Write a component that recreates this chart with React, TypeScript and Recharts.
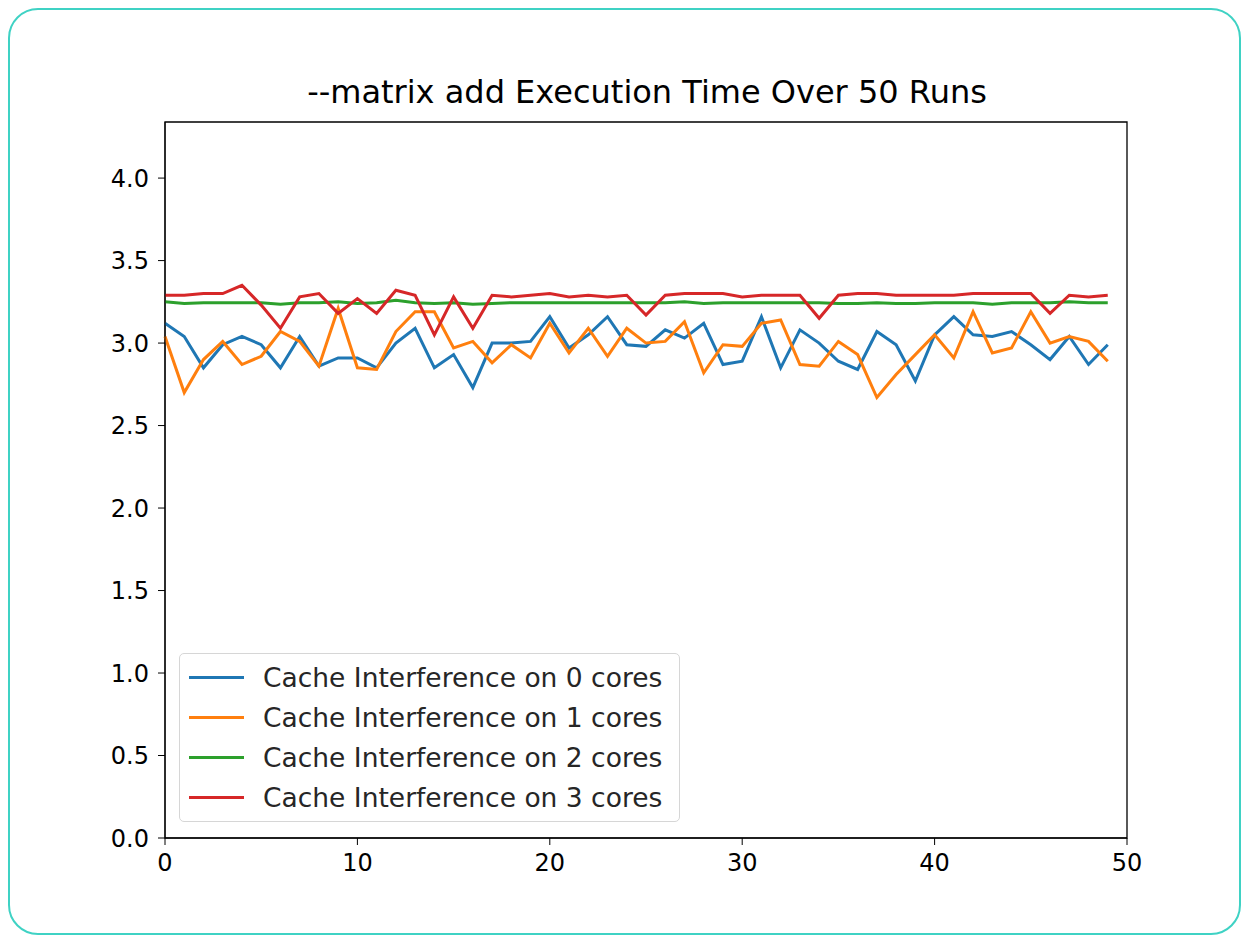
import React from "react";
import {
  LineChart,
  Line,
  XAxis,
  YAxis,
  ReferenceArea,
} from "recharts";

// values, one per run (0..49)
const runs = Array.from({ length: 50 }, (_, i) => i);

const cores0 = [
  3.12, 3.04, 2.85, 2.99, 3.04, 2.99, 2.85, 3.04, 2.86, 2.91,
  2.91, 2.85, 3.0, 3.09, 2.85, 2.93, 2.73, 3.0, 3.0, 3.01,
  3.16, 2.97, 3.05, 3.16, 2.99, 2.98, 3.08, 3.03, 3.12, 2.87,
  2.89, 3.16, 2.85, 3.08, 3.0, 2.89, 2.84, 3.07, 2.99, 2.77,
  3.05, 3.16, 3.05, 3.04, 3.07, 2.99, 2.9, 3.04, 2.87, 2.99,
];
const cores1 = [
  3.04, 2.7, 2.9, 3.01, 2.87, 2.92, 3.07, 3.01, 2.86, 3.21,
  2.85, 2.84, 3.07, 3.19, 3.19, 2.97, 3.01, 2.88, 2.99, 2.91,
  3.12, 2.94, 3.09, 2.92, 3.09, 3.0, 3.01, 3.13, 2.82, 2.99,
  2.98, 3.12, 3.14, 2.87, 2.86, 3.01, 2.93, 2.67, 2.81, 2.93,
  3.05, 2.91, 3.19, 2.94, 2.97, 3.19, 3.0, 3.04, 3.01, 2.89,
];
const cores2 = [
  3.25, 3.24, 3.245, 3.245, 3.245, 3.245, 3.235, 3.245, 3.245, 3.25,
  3.24, 3.245, 3.26, 3.245, 3.24, 3.245, 3.235, 3.24, 3.245, 3.245,
  3.245, 3.245, 3.245, 3.245, 3.245, 3.245, 3.245, 3.25, 3.24, 3.245,
  3.245, 3.245, 3.245, 3.245, 3.245, 3.24, 3.24, 3.245, 3.24, 3.24,
  3.245, 3.245, 3.245, 3.235, 3.245, 3.245, 3.245, 3.25, 3.245, 3.245,
];
const cores3 = [
  3.29, 3.29, 3.3, 3.3, 3.35, 3.23, 3.09, 3.28, 3.3, 3.18,
  3.27, 3.18, 3.32, 3.29, 3.05, 3.28, 3.09, 3.29, 3.28, 3.29,
  3.3, 3.28, 3.29, 3.28, 3.29, 3.17, 3.29, 3.3, 3.3, 3.3,
  3.28, 3.29, 3.29, 3.29, 3.15, 3.29, 3.3, 3.3, 3.29, 3.29,
  3.29, 3.29, 3.3, 3.3, 3.3, 3.3, 3.18, 3.29, 3.28, 3.29,
];

const xTicks = [0, 10, 20, 30, 40, 50];
const yTicks = [0, 0.5, 1, 1.5, 2, 2.5, 3, 3.5, 4];

const seriesNames = [
  "Cache Interference on 0 cores",
  "Cache Interference on 1 cores",
  "Cache Interference on 2 cores",
  "Cache Interference on 3 cores",
];
const colors = ["#1f77b4", "#ff7f0e", "#2ca02c", "#d62728"];

const data = runs.map((run, i) => ({
  run,
  c0: cores0[i],
  c1: cores1[i],
  c2: cores2[i],
  c3: cores3[i],
}));

const FONT = "DejaVu Sans, sans-serif";

export default function App() {
  return (
    <div
      style={{
        position: "relative",
        width: 1233,
        height: 927,
        border: "2px solid #3fd2c4",
        borderRadius: 30,
        boxSizing: "border-box",
        fontFamily: FONT,
        background: "#fff",
      }}
    >
      <div
        style={{
          position: "absolute",
          left: 0,
          width: 1274,
          top: 64,
          textAlign: "center",
          fontSize: 32,
          color: "#000",
          lineHeight: "36px",
        }}
      >
        --matrix add Execution Time Over 50 Runs
      </div>

      <div style={{ position: "absolute", left: -2, top: -2 }}>
        <LineChart
          width={1233}
          height={927}
          data={data}
          margin={{ top: 114, right: 114, bottom: 47, left: 87 }}
        >
          <XAxis
            dataKey="run"
            type="number"
            domain={[0, 50]}
            ticks={xTicks}
            height={50}
            tickSize={7}
            tickMargin={9}
            tickLine={{ stroke: "#000" }}
            axisLine={{ stroke: "#000" }}
            tick={{ fill: "#000", fontSize: 24, fontFamily: FONT }}
          />
          <YAxis
            type="number"
            domain={[0, 4.34]}
            allowDataOverflow
            ticks={yTicks}
            width={70}
            tickSize={7}
            tickMargin={9}
            tickLine={{ stroke: "#000" }}
            axisLine={{ stroke: "#000" }}
            tickFormatter={(v: number) => v.toFixed(1)}
            tick={{ fill: "#000", fontSize: 24, fontFamily: FONT }}
          />
          <ReferenceArea
            x1={0}
            x2={50}
            y1={0}
            y2={4.34}
            fill="none"
            stroke="#000"
            strokeWidth={1.3}
            ifOverflow="visible"
          />
          {["c0", "c1", "c2", "c3"].map((k, i) => (
            <Line
              key={k}
              dataKey={k}
              name={seriesNames[i]}
              stroke={colors[i]}
              strokeWidth={3}
              dot={false}
              isAnimationActive={false}
            />
          ))}
        </LineChart>
      </div>

      <div
        style={{
          position: "absolute",
          left: 169,
          top: 643,
          width: 501,
          height: 169,
          border: "1px solid #d6d6d6",
          borderRadius: 5,
          boxSizing: "border-box",
          background: "rgba(255,255,255,0.8)",
          paddingTop: 3,
        }}
      >
        {seriesNames.map((name, i) => (
          <div
            key={name}
            style={{
              display: "flex",
              alignItems: "center",
              height: 40,
            }}
          >
            <div
              style={{
                marginLeft: 9,
                width: 55,
                height: 3,
                background: colors[i],
              }}
            />
            <span
              style={{
                marginLeft: 19,
                fontSize: 26.5,
                color: "#262626",
                whiteSpace: "nowrap",
              }}
            >
              {name}
            </span>
          </div>
        ))}
      </div>
    </div>
  );
}
